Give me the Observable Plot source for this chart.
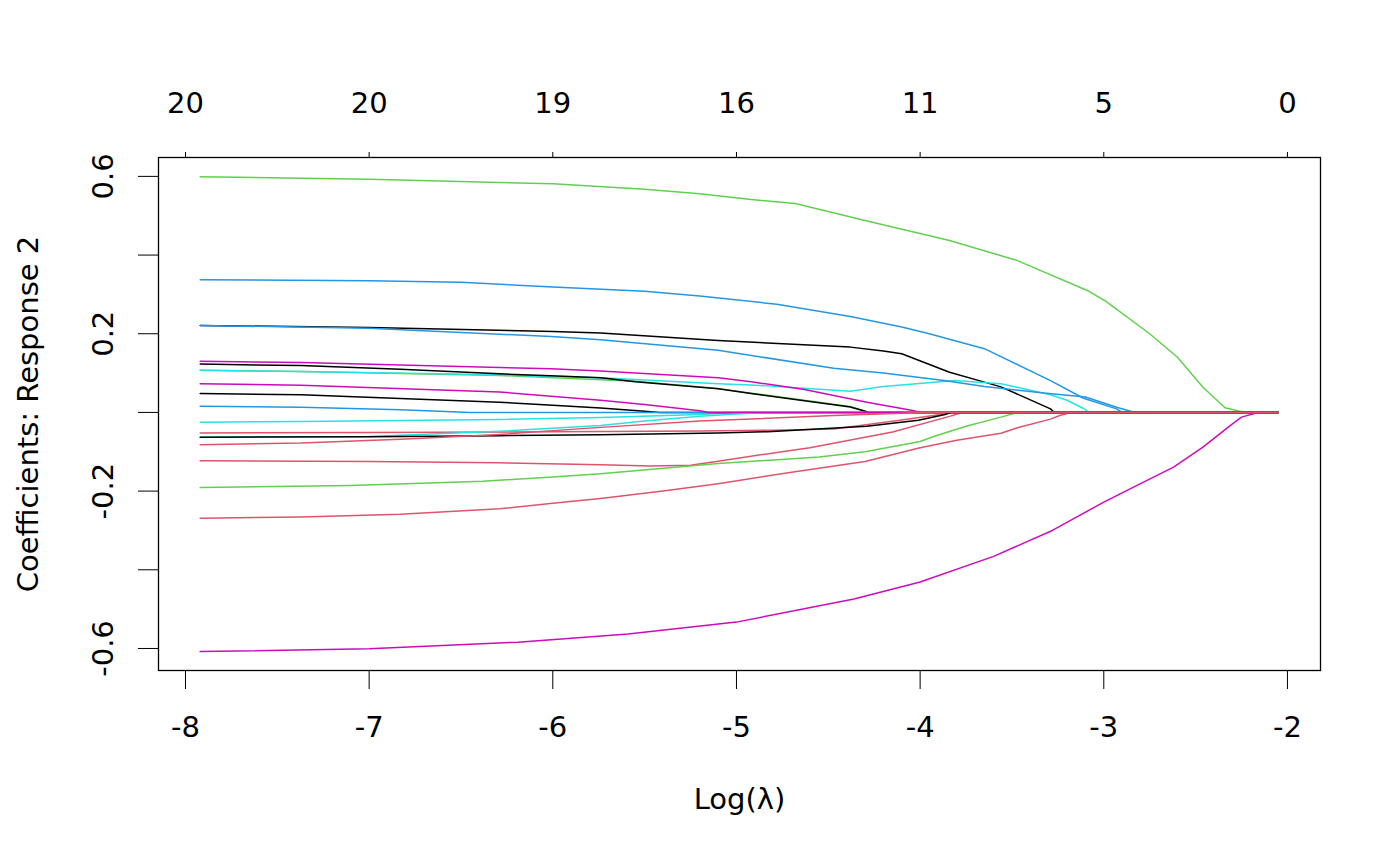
<!DOCTYPE html>
<html>
<head>
<meta charset="utf-8">
<script src="https://cdn.jsdelivr.net/npm/d3@7"></script>
<script src="https://cdn.jsdelivr.net/npm/@observablehq/plot@0.6"></script>
<style>
  body { margin: 0; background: #fff; }
  #chart svg { display: block; }
</style>
</head>
<body>
<div id="chart"></div>
<script>
// coefficient paths, [log(lambda), coefficient]
const k1 = [[-7.92,0.221],[-7,0.216],[-6,0.206],[-5.74,0.202],[-5.1,0.183],[-4.38,0.166],[-4.2,0.156],[-4.1,0.149],[-3.84,0.102],[-3.65,0.077],[-3.56,0.065],[-3.29,0.009],[-3.27,0],[-2.05,0]];
const r4 = [[-7.92,-0.269],[-7.37,-0.266],[-6.83,-0.259],[-6.29,-0.245],[-6,-0.231],[-5.74,-0.219],[-5.4,-0.2],[-5.1,-0.181],[-4.7,-0.152],[-4.3,-0.125],[-4,-0.09],[-3.8,-0.071],[-3.56,-0.053],[-3.47,-0.039],[-3.29,-0.017],[-3.24,-0.008],[-3.18,0],[-2.05,0]];
const g2 = [[-7.92,0.107],[-7.37,0.104],[-6.29,0.094],[-5.74,0.083],[-5.55,0.079],[-5.1,0.061],[-4.92,0.049],[-4.38,0.015],[-4.3,0.004],[-4.28,0],[-2.05,0]];
const b1 = [[-7.92,0.337],[-7,0.335],[-6.5,0.331],[-6,0.319],[-5.5,0.308],[-5.2,0.296],[-4.78,0.275],[-4.38,0.244],[-4.1,0.217],[-3.95,0.2],[-3.65,0.162],[-3.29,0.081],[-3.11,0.036],[-2.93,0.009],[-2.9,0],[-2.05,0]];
const c1 = [[-7.92,0.107],[-7.37,0.104],[-6.29,0.096],[-6.01,0.091],[-5.74,0.088],[-5.1,0.073],[-4.92,0.07],[-4.38,0.054],[-4.2,0.066],[-3.81,0.081],[-3.56,0.073],[-3.29,0.045],[-3.2,0.031],[-3.11,0.01],[-3.08,0],[-2.05,0]];
const m3 = [[-7.92,-0.608],[-7,-0.601],[-6.19,-0.584],[-5.59,-0.563],[-5,-0.533],[-4.36,-0.474],[-4,-0.431],[-3.6,-0.366],[-3.28,-0.3],[-3,-0.228],[-2.8,-0.181],[-2.62,-0.139],[-2.46,-0.088],[-2.31,-0.033],[-2.25,-0.012],[-2.16,0],[-2.05,0]];
const k2 = [[-7.92,0.123],[-7.37,0.119],[-6.83,0.11],[-6.29,0.098],[-6.01,0.093],[-5.74,0.088],[-5.55,0.078],[-5.1,0.06],[-4.92,0.048],[-4.38,0.014],[-4.3,0.003],[-4.28,0],[-2.05,0]];
const r3 = [[-7.92,-0.123],[-7,-0.125],[-6.3,-0.128],[-5.74,-0.133],[-5.47,-0.136],[-5.25,-0.134],[-5.1,-0.124],[-4.77,-0.101],[-4.6,-0.09],[-4.15,-0.05],[-3.84,-0.01],[-3.77,0],[-2.05,0]];
const g1 = [[-7.92,0.599],[-7,0.593],[-6,0.581],[-5.5,0.567],[-5.2,0.556],[-4.92,0.541],[-4.68,0.531],[-4.3,0.488],[-3.84,0.437],[-3.47,0.386],[-3.09,0.31],[-2.99,0.283],[-2.75,0.2],[-2.6,0.141],[-2.46,0.064],[-2.34,0.012],[-2.26,0.003],[-2.22,0],[-2.05,0]];
const b2 = [[-7.92,0.221],[-7,0.214],[-6.01,0.193],[-5.74,0.185],[-5.1,0.158],[-4.47,0.112],[-4.2,0.1],[-3.87,0.081],[-3.65,0.066],[-3.3,0.048],[-3.1,0.039],[-2.93,0.013],[-2.83,0],[-2.05,0]];
const c2 = [[-7.92,-0.025],[-7.37,-0.023],[-6.29,-0.018],[-5.74,-0.013],[-5.2,-0.005],[-4.98,0],[-2.05,0]];
const m1 = [[-7.92,0.13],[-7.37,0.127],[-6.01,0.111],[-5.74,0.105],[-5.1,0.088],[-4.92,0.078],[-4.63,0.058],[-4.29,0.026],[-4.04,0.005],[-4,0],[-2.05,0]];
const k3 = [[-7.92,0.048],[-7.37,0.045],[-6.29,0.026],[-6,0.018],[-5.74,0.011],[-5.5,0.003],[-5.42,0],[-2.05,0]];
const r1 = [[-7.92,-0.052],[-7,-0.051],[-6,-0.049],[-5.2,-0.047],[-4.8,-0.045],[-4.47,-0.042],[-4.11,-0.02],[-3.87,-0.004],[-3.84,0],[-2.05,0]];
const g3 = [[-7.92,-0.191],[-7.1,-0.186],[-6.38,-0.175],[-6,-0.164],[-5.74,-0.156],[-5.1,-0.13],[-4.55,-0.113],[-4.3,-0.1],[-4,-0.074],[-3.93,-0.062],[-3.75,-0.035],[-3.56,-0.012],[-3.47,0],[-2.05,0]];
const b3 = [[-7.92,0.016],[-7.37,0.013],[-7.1,0.01],[-6.83,0.007],[-6.55,0.002],[-6.45,0],[-2.05,0]];
const c3 = [[-7.92,-0.063],[-7,-0.061],[-6.29,-0.048],[-5.74,-0.033],[-5.5,-0.022],[-5.2,-0.01],[-4.95,-0.003],[-4.85,0],[-2.05,0]];
const m2 = [[-7.92,0.073],[-7.37,0.069],[-6.29,0.052],[-5.74,0.031],[-5.5,0.02],[-5.2,0.004],[-5.15,0],[-2.05,0]];
const k4 = [[-7.92,-0.063],[-7,-0.062],[-6.29,-0.059],[-5.74,-0.057],[-5.1,-0.052],[-4.83,-0.049],[-4.29,-0.035],[-4.01,-0.02],[-3.87,-0.006],[-3.83,0],[-2.05,0]];
const r2 = [[-7.92,-0.082],[-7.37,-0.078],[-6.83,-0.068],[-6.29,-0.056],[-5.74,-0.038],[-5.2,-0.022],[-4.47,-0.008],[-4.1,-0.002],[-4.04,0],[-2.05,0]];

// matplot column order, colours cycle 1:6
const paths = [k1, r4, g2, b1, c1, m3, k2, r3, g1, b2, c2, m1, k3, r1, g3, b3, c3, m2, k4, r2];
const palette = ["#000000", "#DF536B", "#61D04F", "#2297E6", "#28E2E5", "#CD0BBC"];

const xTicks = [-8, -7, -6, -5, -4, -3, -2];
const dfLabels = [20, 20, 19, 16, 11, 5, 0];
const yTicks = [-0.6, -0.4, -0.2, 0, 0.2, 0.4, 0.6];
const yLabels = [-0.6, -0.2, 0.2, 0.6];

const rows = paths.flatMap((p, i) =>
  p.map(([x, y]) => ({id: i, x, y, color: palette[i % 6]}))
);

const chart = Plot.plot({
  width: 1400,
  height: 866,
  marginTop: 157,
  marginRight: 80,
  marginBottom: 196,
  marginLeft: 158,
  x: {domain: [-8.147, -1.82]},
  y: {domain: [-0.656, 0.648]},
  color: {type: "identity"},
  style: {
    fontFamily: "DejaVu Sans",
    fontSize: "29px",
    color: "black",
    background: "white",
  },
  marks: [
    Plot.line(rows, {x: "x", y: "y", z: "id", stroke: "color", strokeWidth: 1.5}),
    Plot.frame({stroke: "black", strokeWidth: 1.3}),
    Plot.axisX({
      ticks: xTicks,
      tickSize: 19,
      tickPadding: 27,
      tickFormat: d => String(d),
      label: null,
    }),
    Plot.axisX({
      anchor: "top",
      ticks: xTicks,
      tickSize: 6,
      tickPadding: 39,
      tickFormat: d => String(dfLabels[xTicks.indexOf(d)]),
      label: null,
    }),
    Plot.axisY({ticks: yTicks, tickSize: 20, tickFormat: () => "", label: null}),
    Plot.text(yLabels, {
      y: d => d,
      text: d => String(d),
      frameAnchor: "left",
      dx: -46,
      rotate: -90,
      textAnchor: "middle",
      lineAnchor: "bottom",
    }),
    Plot.text(["Coefficients: Response 2"], {
      frameAnchor: "left",
      dx: -121,
      rotate: -90,
      textAnchor: "middle",
      lineAnchor: "bottom",
    }),
    Plot.text(["Log(λ)"], {
      frameAnchor: "bottom",
      dy: 138,
      textAnchor: "middle",
      lineAnchor: "bottom",
    }),
  ],
});

d3.select("#chart").append(() => chart);
</script>
</body>
</html>
